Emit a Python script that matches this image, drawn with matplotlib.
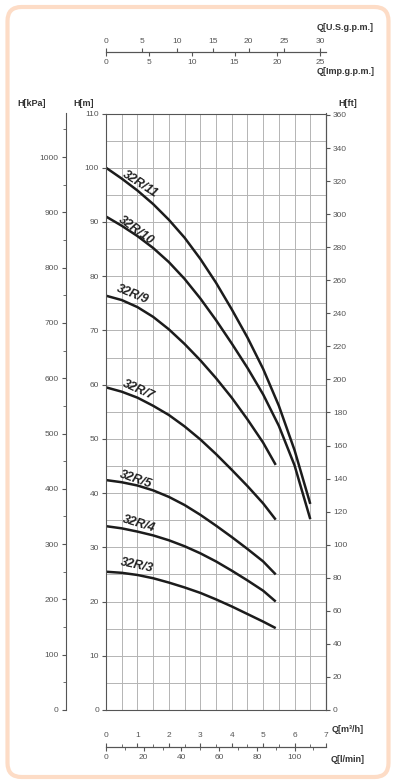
import matplotlib
matplotlib.use('Agg')
import matplotlib.pyplot as plt
from matplotlib.patches import FancyBboxPatch
from matplotlib.ticker import MultipleLocator

plt.rcParams['font.family'] = ['Liberation Sans', 'DejaVu Sans']

# Pump curves: flow Q [m3/h] and head H [m]
q_long = [0, 0.5, 1, 1.5, 2, 2.5, 3, 3.5, 4, 4.5, 5, 5.5, 6, 6.5]
q_short = [0, 0.5, 1, 1.5, 2, 2.5, 3, 3.5, 4, 4.5, 5, 5.4]

h_32r11 = [100.0, 98.0, 95.8, 93.3, 90.4, 87.1, 83.2, 78.8, 73.9, 68.7, 62.9, 56.1, 47.9, 38.0]
h_32r10 = [91.0, 89.3, 87.4, 85.2, 82.6, 79.5, 75.9, 71.9, 67.6, 63.1, 58.2, 52.4, 45.1, 35.2]
h_32r9 = [76.4, 75.6, 74.3, 72.5, 70.2, 67.5, 64.5, 61.2, 57.6, 53.6, 49.3, 45.2]
h_32r7 = [59.5, 58.7, 57.6, 56.1, 54.4, 52.3, 49.9, 47.2, 44.3, 41.3, 38.1, 35.1]
h_32r5 = [42.4, 42.0, 41.4, 40.5, 39.3, 37.8, 36.0, 34.0, 31.9, 29.7, 27.4, 25.0]
h_32r4 = [33.9, 33.5, 32.9, 32.2, 31.3, 30.2, 28.9, 27.4, 25.7, 23.9, 22.0, 20.0]
h_32r3 = [25.5, 25.3, 24.9, 24.3, 23.5, 22.6, 21.6, 20.4, 19.1, 17.7, 16.3, 15.1]

models = ['32R/11', '32R/10', '32R/9', '32R/7', '32R/5', '32R/4', '32R/3']
flows = [q_long, q_long, q_short, q_short, q_short, q_short, q_short]
heads = [h_32r11, h_32r10, h_32r9, h_32r7, h_32r5, h_32r4, h_32r3]

# label placement (Q, H, angle) for each curve name
label_pos = [(1.08, 97.0, -33), (0.95, 88.4, -36), (0.86, 76.6, -22),
             (1.02, 59.0, -24), (0.95, 42.4, -19), (1.05, 34.3, -17),
             (0.99, 26.6, -12)]

# unit conversions
M_TO_KPA = 9.80665
M_TO_FT = 1 / 0.3048
M3H_TO_USGPM = 4.40287
USGPM_TO_IMPGPM = 0.832674
M3H_TO_LMIN = 1000 / 60

W, H = 395, 782
def fx(px):
    return px / W
def fy(py):
    return 1 - py / H

txt_col = '#555555'
fig = plt.figure(figsize=(W / 100, H / 100), dpi=100)

# rounded peach frame
bg = fig.add_axes([0, 0, 1, 1], zorder=-1)
bg.set_xlim(0, W)
bg.set_ylim(H, 0)
bg.axis('off')
bg.add_patch(FancyBboxPatch((7.5, 7), 381, 770, boxstyle='round,pad=0,rounding_size=14',
                            fc='none', ec='#fddcc6', lw=3))

# main chart
ax = fig.add_axes([fx(106), fy(710), (326 - 106) / W, (710 - 113.5) / H])
ax.set_xlim(0, 7)
ax.set_ylim(0, 110)
ax.xaxis.set_major_locator(MultipleLocator(0.5))
ax.tick_params(axis='x', length=0, labelbottom=False)
ax.set_yticks(range(0, 111, 10))
ax.set_yticks(range(5, 111, 10), minor=True)
ax.tick_params(axis='y', which='major', length=3, pad=2, labelsize=6,
               colors=txt_col)
ax.tick_params(axis='y', which='minor', length=0)
ax.grid(True, which='both', color='#b4b4b4', lw=0.7)
for s in ax.spines.values():
    s.set_color('#555555')
    s.set_linewidth(0.8)

for name, q, h, (lq, lh, ang) in zip(models, flows, heads, label_pos):
    ax.plot(q, h, color='#1c1c1c', lw=1.8, solid_capstyle='butt',
            solid_joinstyle='round')
    ax.text(lq, lh, name, rotation=ang, rotation_mode='anchor', ha='center',
            va='center', fontsize=9, fontweight='bold', style='italic',
            color='#222222')

# kPa axis on the far left
kpa = ax.secondary_yaxis(-40.3 / 220, functions=(lambda m: m * M_TO_KPA,
                                                 lambda k: k / M_TO_KPA))
kpa.set_yticks(range(0, 1001, 100))
kpa.set_yticks(range(50, 1051, 100), minor=True)
kpa.tick_params(which='major', length=3, pad=2, labelsize=6, colors=txt_col)
kpa.tick_params(which='minor', length=2, colors=txt_col)
kpa.spines['left'].set_color('#555555')
kpa.spines['left'].set_linewidth(0.8)

# feet axis on the right
ft = ax.secondary_yaxis('right', functions=(lambda m: m * M_TO_FT,
                                            lambda f: f / M_TO_FT))
ft.set_yticks(range(0, 361, 20))
ft.tick_params(length=3, pad=2, labelsize=6, colors=txt_col)
ft.spines['right'].set_color('#555555')
ft.spines['right'].set_linewidth(0.8)

# gallons scale on top
axt = fig.add_axes([fx(106), fy(52), 220 / W, 0.0001])
axt.set_xlim(0, 7 * M3H_TO_USGPM)
axt.set_yticks([])
for s in ['left', 'right', 'bottom']:
    axt.spines[s].set_visible(False)
axt.spines['top'].set_color('#555555')
axt.xaxis.set_ticks_position('top')
axt.set_xticks(range(0, 31, 5))
axt.tick_params(length=3, pad=2, labelsize=6, colors=txt_col)
imp = axt.secondary_xaxis('bottom', functions=(lambda u: u * USGPM_TO_IMPGPM,
                                               lambda i: i / USGPM_TO_IMPGPM))
imp.set_xticks(range(0, 26, 5))
imp.tick_params(length=3, pad=2, labelsize=6, colors=txt_col)
imp.spines['bottom'].set_color('#555555')

# flow scale at the bottom
axb = fig.add_axes([fx(106), fy(747), 220 / W, 0.0001])
axb.set_xlim(0, 7)
axb.set_yticks([])
for s in ['left', 'right', 'bottom']:
    axb.spines[s].set_visible(False)
axb.spines['top'].set_color('#555555')
axb.xaxis.set_ticks_position('top')
axb.set_xticks(range(0, 8))
axb.xaxis.set_minor_locator(MultipleLocator(0.5))
axb.tick_params(which='major', length=3, pad=3, labelsize=6, colors=txt_col)
axb.tick_params(which='minor', length=2, colors=txt_col)
lmin = axb.secondary_xaxis('bottom', functions=(lambda q: q * M3H_TO_LMIN,
                                                lambda l: l / M3H_TO_LMIN))
lmin.set_xticks(range(0, 101, 20))
lmin.xaxis.set_minor_locator(MultipleLocator(10))
lmin.tick_params(which='major', length=3, pad=2, labelsize=6, colors=txt_col)
lmin.tick_params(which='minor', length=2, colors=txt_col)
lmin.spines['bottom'].set_color('#555555')

# axis titles
titles = [(32, 103, 'H[kPa]'), (84, 103, 'H[m]'), (348, 103, 'H[ft]'),
          (345, 28, 'Q[U.S.g.p.m.]'), (346, 71, 'Q[Imp.g.p.m.]'),
          (348, 729, 'Q[m³/h]'), (348, 759, 'Q[l/min]')]
for px, py, t in titles:
    fig.text(fx(px), fy(py), t, ha='center', va='center', fontsize=6.5,
             fontweight='bold', color='#333333')

fig.savefig('out.png', dpi=100)
